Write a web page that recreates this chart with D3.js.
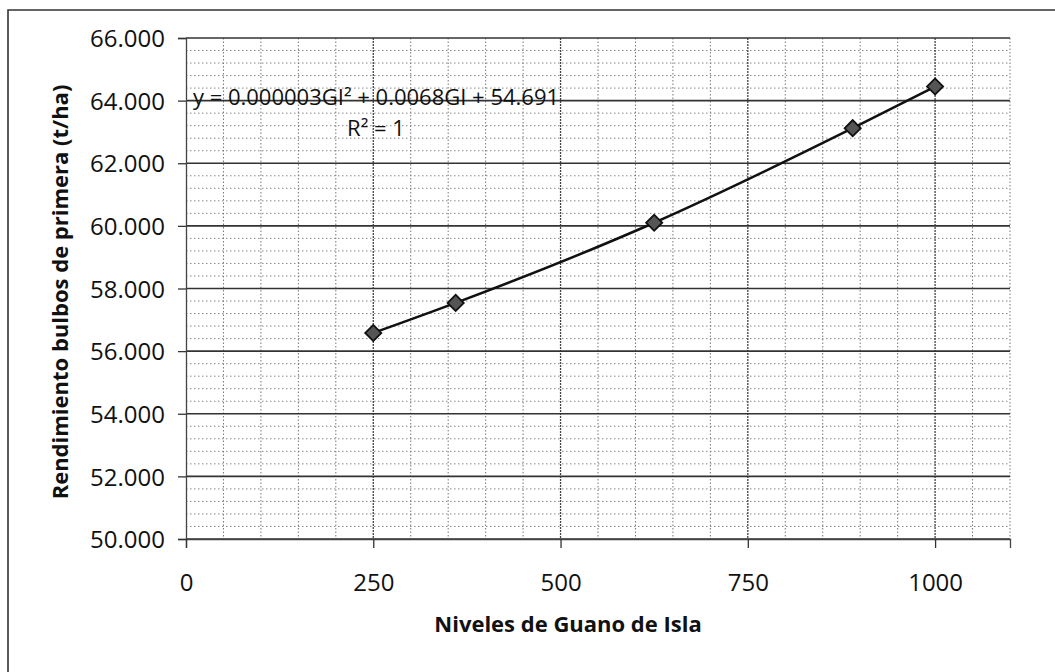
<!DOCTYPE html>
<html>
<head>
<meta charset="utf-8">
<script src="https://cdn.jsdelivr.net/npm/d3@7"></script>
<style>
  html, body { margin: 0; padding: 0; background: #fff; }
  svg { display: block; }
  text { font-family: "Open Sans", "DejaVu Sans", sans-serif; fill: #111; }
</style>
</head>
<body>
<svg id="chart" width="1055" height="672"></svg>
<script>
// ---- data ----
const guanoLevels = [250, 360, 625, 890, 1000];
const yieldValues = [56.58, 57.54, 60.10, 63.12, 64.45];
const xTickValues = [0, 250, 500, 750, 1000];
const yTickValues = [50, 52, 54, 56, 58, 60, 62, 64, 66];
const equationText = "y = 0.000003GI² + 0.0068GI + 54.691";
const r2Text = "R² = 1";
const xTitle = "Niveles de Guano de Isla";
const yTitle = "Rendimiento bulbos de primera (t/ha)";

const svg = d3.select("#chart");
const x = d3.scaleLinear().domain([0, 1100]).range([186, 1010]);
const y = d3.scaleLinear().domain([50, 66]).range([539, 38]);

// outer border (left + top visible)
svg.append("path")
  .attr("d", "M8,672 L8,10 L1055,10")
  .attr("fill", "none").attr("stroke", "#333").attr("stroke-width", 1.6);

const grid = svg.append("g");
// minor horizontal every 0.4
const minorY = d3.range(50, 66.001, 0.4).filter(v => Math.abs(v / 2 - Math.round(v / 2)) > 1e-6);
grid.selectAll("line.mh").data(minorY).join("line")
  .attr("x1", x(0)).attr("x2", x(1100))
  .attr("y1", d => y(d)).attr("y2", d => y(d))
  .attr("stroke", "#888").attr("stroke-width", 1).attr("stroke-dasharray", "1.5,2.5");
// vertical every 50
const minorX = d3.range(50, 1100.1, 50);
grid.selectAll("line.mv").data(minorX).join("line")
  .attr("x1", d => x(d)).attr("x2", d => x(d))
  .attr("y1", y(66)).attr("y2", y(50))
  .attr("stroke", d => d % 250 === 0 ? "#444" : "#777")
  .attr("stroke-width", d => d % 250 === 0 ? 1.3 : 1)
  .attr("stroke-dasharray", d => d % 250 === 0 ? "2,1" : "1.5,2");
// major horizontal every 2
grid.selectAll("line.Mh").data(yTickValues).join("line")
  .attr("x1", x(0)).attr("x2", x(1100))
  .attr("y1", d => y(d)).attr("y2", d => y(d))
  .attr("stroke", "#333").attr("stroke-width", 1.6);

// axes
const yAxis = svg.append("g").attr("transform", `translate(${x(0)},0)`)
  .call(d3.axisLeft(y).tickValues(yTickValues).tickFormat(d3.format(".3f")).tickSize(8).tickPadding(13));
const xAxis = svg.append("g").attr("transform", `translate(0,${y(50)})`)
  .call(d3.axisBottom(x).tickValues(xTickValues).tickFormat(d3.format("d")).tickSize(9).tickPadding(26));
[xAxis, yAxis].forEach(a => {
  a.select(".domain").attr("stroke", "#444").attr("stroke-width", 1.3);
  a.selectAll(".tick line").attr("stroke", "#333").attr("stroke-width", 1.3);
  a.selectAll(".tick text").style("font-family", "'Open Sans', sans-serif")
    .style("font-size", "24px").attr("fill", "#111");
});
yAxis.selectAll(".tick text").attr("dy", "0.36em");

// trend line through points
const line = d3.line().x((d, i) => x(guanoLevels[i])).y(d => y(d)).curve(d3.curveMonotoneX);
svg.append("path").datum(yieldValues)
  .attr("d", line).attr("fill", "none").attr("stroke", "#111").attr("stroke-width", 2.5);

// markers
svg.selectAll("path.pt").data(yieldValues).join("path")
  .attr("class", "pt")
  .attr("d", d3.symbol().type(d3.symbolSquare).size(130))
  .attr("transform", (d, i) => `translate(${x(guanoLevels[i])},${y(d)}) rotate(45)`)
  .attr("fill", "#555").attr("stroke", "#111").attr("stroke-width", 1.8);

// equation labels
svg.append("text").attr("x", 376).attr("y", 105).attr("text-anchor", "middle")
  .style("font-size", "22px").text(equationText);
svg.append("text").attr("x", 376).attr("y", 136).attr("text-anchor", "middle")
  .style("font-size", "22px").text(r2Text);

// axis titles
svg.append("text").attr("x", 568).attr("y", 632).attr("text-anchor", "middle")
  .style("font-size", "22px").style("font-weight", "bold").text(xTitle);
svg.append("text").attr("transform", "translate(68,292) rotate(-90)").attr("text-anchor", "middle")
  .style("font-size", "22px").style("font-weight", "bold").text(yTitle);
</script>
</body>
</html>
